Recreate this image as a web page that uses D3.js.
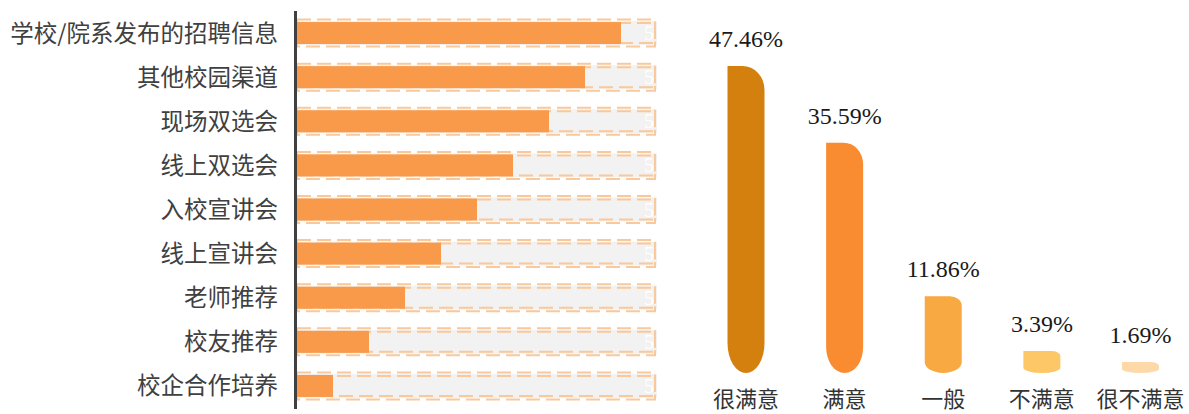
<!DOCTYPE html>
<html>
<head>
<meta charset="utf-8">
<script src="https://cdn.jsdelivr.net/npm/d3@7"></script>
<style>
html,body{margin:0;padding:0;background:#fff;}
svg{display:block;}
</style>
</head>
<body>
<svg id="chart" width="1189" height="414"></svg>
<script>
// Left chart: channels (ranking values)
const channels = ["学校/院系发布的招聘信息","其他校园渠道","现场双选会","线上双选会","入校宣讲会","线上宣讲会","老师推荐","校友推荐","校企合作培养"];
const channelValues = [9, 8, 7, 6, 5, 4, 3, 2, 1];
const channelMax = 10;
const channelBgLabel = ["5","5","5","5","5","5","5","5","5"];

// Right chart: satisfaction
const levels = ["很满意","满意","一般","不满意","很不满意"];
const levelValues = [47.46, 35.59, 11.86, 3.39, 1.69];
const levelColors = ["#D3800F","#F98B31","#F9A941","#FDC767","#FDD9AA"];

const svg = d3.select("#chart");

// ---------- Left horizontal bar chart ----------
const yL = d3.scaleBand().domain(channels).range([11, 408]);
const xL = d3.scaleLinear().domain([0, channelMax]).range([297, 657]);
const dashColor = "#F9C89B";
const rowH = 22;

const rows = svg.append("g").selectAll("g").data(channels).join("g")
  .attr("transform", d => `translate(0,${yL(d) + yL.bandwidth()/2})`);

rows.append("rect")
  .attr("x", xL(0)).attr("y", -12)
  .attr("width", xL(channelMax) - xL(0)).attr("height", 24)
  .attr("fill", "#F2F2F2");
rows.append("rect")
  .attr("x", xL(0)).attr("y", -10)
  .attr("width", xL(channelMax) - xL(0) - 2).attr("height", 20)
  .attr("fill", "none").attr("stroke", dashColor).attr("stroke-width", 2)
  .attr("stroke-dasharray", "14,6");
rows.append("rect")
  .attr("x", xL(0)).attr("y", -13.5)
  .attr("width", xL(channelMax) - xL(0) - 2).attr("height", 27)
  .attr("fill", "none").attr("stroke", dashColor).attr("stroke-width", 2)
  .attr("stroke-dasharray", "14,6");
rows.append("rect")
  .attr("x", xL(0)).attr("y", -rowH/2)
  .attr("width", (d, i) => xL(channelValues[i]) - xL(0)).attr("height", rowH)
  .attr("fill", "#F99A4A");
rows.append("text")
  .attr("x", xL(channelMax) - 8).attr("y", 0)
  .attr("dy", "0.35em").attr("text-anchor", "middle")
  .attr("font-family", "Liberation Serif, serif").attr("font-size", 20)
  .attr("fill", "#FFFFFF")
  .text((d, i) => channelBgLabel[i]);

svg.append("g").selectAll("text").data(channels).join("text")
  .attr("x", 278)
  .attr("y", d => yL(d) + yL.bandwidth()/2)
  .attr("dy", "0.36em")
  .attr("text-anchor", "end")
  .attr("font-family", "'Noto Sans CJK SC', sans-serif")
  .attr("font-size", 23.5)
  .attr("fill", "#404040")
  .text(d => d);

svg.append("line")
  .attr("x1", 295.5).attr("x2", 295.5)
  .attr("y1", 11).attr("y2", 409)
  .attr("stroke", "#404040").attr("stroke-width", 3);

// ---------- Right vertical bar chart ----------
const xR = d3.scalePoint().domain(levels).range([746, 1140.5]);
const yR = d3.scaleLinear().domain([0, 50]).range([373, 373 - 6.47 * 50]);
const bw = 37;

function barPath(cx, top, bottom) {
  const h = bottom - top;
  const x0 = cx - bw/2, x1 = cx + bw/2;
  const rx = Math.min(22, 8 + h * 0.05);
  const ry = Math.min(24, 3 + h * 0.08);
  const ryB = Math.min(30, 3 + h * 0.1);
  return `M${x0},${top} L${x1 - rx},${top} A${rx},${ry} 0 0 1 ${x1},${top + ry} ` +
         `L${x1},${bottom - ryB} A${bw/2},${ryB} 0 0 1 ${x0},${bottom - ryB} Z`;
}

svg.append("g").selectAll("path").data(levels).join("path")
  .attr("d", (d, i) => barPath(xR(d), yR(levelValues[i]), yR(0)))
  .attr("fill", (d, i) => levelColors[i]);

svg.append("g").selectAll("text").data(levels).join("text")
  .attr("x", d => xR(d))
  .attr("y", (d, i) => yR(levelValues[i]) - 19)
  .attr("text-anchor", "middle")
  .attr("font-family", "'Liberation Serif', 'Times New Roman', serif")
  .attr("font-size", 24)
  .attr("fill", "#1A1A1A")
  .text((d, i) => levelValues[i].toFixed(2) + "%");

svg.append("g").selectAll("text").data(levels).join("text")
  .attr("x", d => xR(d))
  .attr("y", 407)
  .attr("text-anchor", "middle")
  .attr("font-family", "'Noto Sans CJK SC', sans-serif")
  .attr("font-size", 22)
  .attr("fill", "#333333")
  .text(d => d);
</script>
</body>
</html>
